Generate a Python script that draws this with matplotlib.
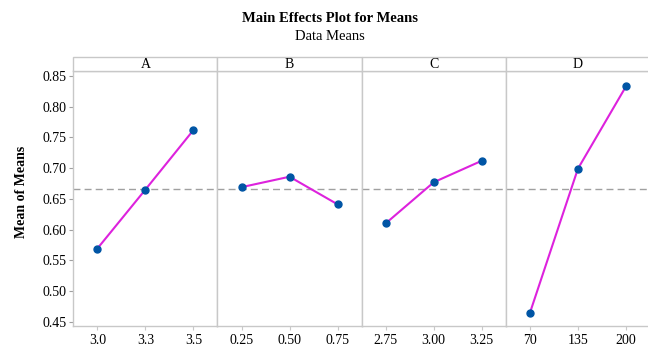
import matplotlib
matplotlib.use("Agg")
import matplotlib.pyplot as plt
from matplotlib.patches import Rectangle

plt.rcParams['font.family'] = ['Liberation Serif', 'DejaVu Serif']

factors = ["A", "B", "C", "D"]
levels_A = ["3.0", "3.3", "3.5"]
levels_B = ["0.25", "0.50", "0.75"]
levels_C = ["2.75", "3.00", "3.25"]
levels_D = ["70", "135", "200"]
means_A = [0.569, 0.665, 0.762]
means_B = [0.669, 0.686, 0.641]
means_C = [0.610, 0.677, 0.712]
means_D = [0.464, 0.699, 0.833]
grand_mean = 0.6655
y_ticks = [0.45, 0.50, 0.55, 0.60, 0.65, 0.70, 0.75, 0.80, 0.85]

levels = [levels_A, levels_B, levels_C, levels_D]
means = [means_A, means_B, means_C, means_D]

W, H = 648, 346
fig = plt.figure(figsize=(W / 100, H / 100), dpi=100)

left_px, right_px = 73.3, 650.0
top_px, bottom_px = 71.0, 325.7
strip_top_px = 57.3
panel_w = (right_px - left_px) / 4

edge = "#c8c8c8"
line_col = "#dd22dd"
dot_col = "#0055a5"

axes = []
for i in range(4):
    x0 = (left_px + i * panel_w) / W
    ax = fig.add_axes([x0, 1 - bottom_px / H, panel_w / W, (bottom_px - top_px) / H])
    axes.append(ax)
    xs = list(range(len(levels[i])))
    ax.axhline(grand_mean, color="#a0a0a0", lw=1.0, ls=(0, (5, 3)), zorder=1)
    ax.plot(xs, means[i], color=line_col, lw=1.5, zorder=2)
    ax.plot(xs, means[i], 'o', color=dot_col, ms=5, zorder=3)
    ax.set_xlim(-0.5, 2.5)
    ax.set_ylim(0.4435, 0.8581)
    ax.set_xticks(xs)
    ax.set_xticklabels(levels[i], fontsize=10)
    for s in ax.spines.values():
        s.set_color(edge)
        s.set_linewidth(1.0)
    ax.tick_params(axis='x', length=3, color=edge, pad=3)
    if i == 0:
        ax.set_yticks(y_ticks)
        ax.set_yticklabels([f"{v:.2f}" for v in y_ticks], fontsize=10)
        ax.tick_params(axis='y', length=3, color="#a0a0a0", pad=2)
    else:
        ax.set_yticks([])
    # factor header strip
    strip = Rectangle((x0, 1 - top_px / H), panel_w / W, (top_px - strip_top_px) / H,
                      transform=fig.transFigure, facecolor="white", edgecolor=edge,
                      lw=1.0, clip_on=False)
    fig.add_artist(strip)
    fig.text(x0 + panel_w / W / 2, 1 - (top_px + strip_top_px) / 2 / H, factors[i],
             ha="center", va="center", fontsize=10)

fig.text(330 / W, 1 - 18 / H, "Main Effects Plot for Means", ha="center", va="center",
         fontsize=10.5, fontweight="bold")
fig.text(330 / W, 1 - 37 / H, "Data Means", ha="center", va="center", fontsize=10.5)
fig.text(22 / W, 1 - 192 / H, "Mean of Means", ha="center", va="center", rotation=90,
         fontsize=10, fontweight="bold")

fig.savefig("out.png", dpi=100)
